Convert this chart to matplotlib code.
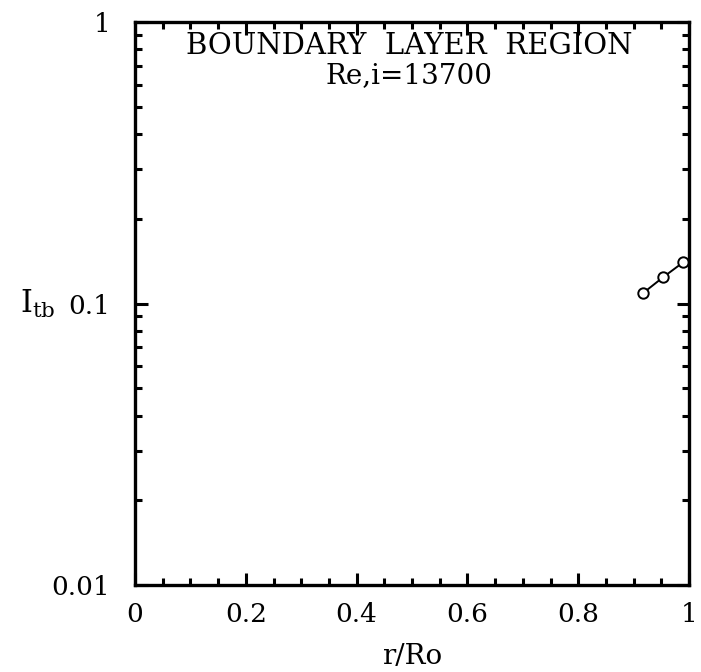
import matplotlib.pyplot as plt
import numpy as np
from matplotlib.ticker import LogLocator, NullFormatter, FixedLocator

plt.rcParams['font.family'] = ['DejaVu Serif']
plt.rcParams['mathtext.fontset'] = 'dejavuserif'

# data
r_ro = [0.917, 0.953, 0.989]
i_tb = [0.109, 0.124, 0.140]

x_ticks = [0, 0.2, 0.4, 0.6, 0.8, 1]
x_labels = ['0', '0.2', '0.4', '0.6', '0.8', '1']
y_ticks = [0.01, 0.1, 1]
y_labels = ['0.01', '0.1', '1']

fig = plt.figure(figsize=(7.01, 6.72), dpi=100)
ax = fig.add_axes([0.1926, 0.1295, 0.7904, 0.8375])

ax.plot(r_ro, i_tb, 'o-', color='black', mfc='white', mec='black',
        markersize=7.5, linewidth=1.4, markeredgewidth=1.4)

ax.set_yscale('log')
ax.set_xlim(0, 1)
ax.set_ylim(0.01, 1)

ax.set_xticks(x_ticks)
ax.set_xticklabels(x_labels)
ax.xaxis.set_minor_locator(FixedLocator(np.arange(0.05, 1.0, 0.05)))
ax.set_yticks(y_ticks)
ax.set_yticklabels(y_labels)
ax.yaxis.set_minor_locator(LogLocator(base=10, subs=np.arange(2, 10)))
ax.yaxis.set_minor_formatter(NullFormatter())

ax.tick_params(which='both', direction='in', top=True, right=True, width=2.2)
ax.tick_params(which='major', length=9, labelsize=19)
ax.tick_params(axis='x', which='major', pad=12)
ax.tick_params(axis='y', which='major', pad=18)
ax.tick_params(which='minor', length=5)
for s in ax.spines.values():
    s.set_linewidth(2.4)

ax.set_xlabel('r/Ro', fontsize=20, labelpad=12)
ax.set_ylabel(r'$\mathrm{I}_{\mathrm{tb}}$', fontsize=22, rotation=0, labelpad=10, va='center')

ax.text(0.495, 0.982, 'BOUNDARY  LAYER  REGION', transform=ax.transAxes,
        ha='center', va='top', fontsize=21)
ax.text(0.495, 0.93, 'Re,i=13700', transform=ax.transAxes,
        ha='center', va='top', fontsize=20)

plt.savefig('out.png', dpi=100)
plt.close()
